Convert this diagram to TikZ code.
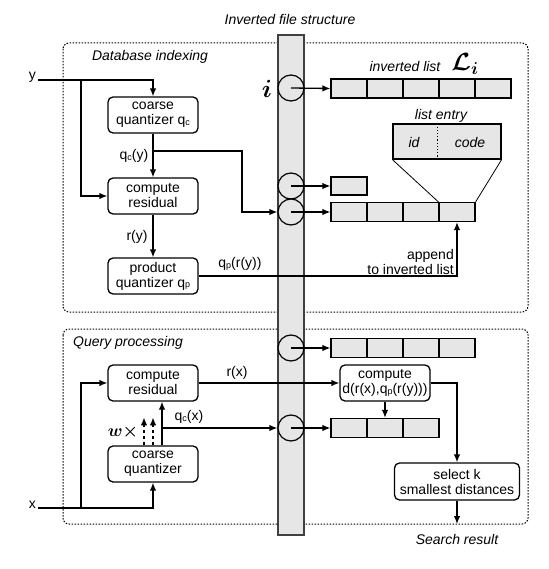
\documentclass[tikz,border=0pt]{standalone}
\usepackage{fontspec}
\setmainfont{Liberation Sans}
\usepackage{bm}
\usetikzlibrary{arrows.meta}
\newcommand{\sbs}[1]{\raisebox{-0.6pt}{\fontsize{9}{9}\selectfont #1}}
\definecolor{barfill}{HTML}{E6E6E6}
\definecolor{bardraw}{HTML}{404040}
\tikzset{
  procbox/.style={draw, rounded corners=5pt, line width=1.3pt, minimum width=90pt, minimum height=36pt, align=center, inner sep=1pt, fill=white},
  cell/.style={draw, fill=barfill, minimum width=36pt, minimum height=19pt, inner sep=0pt, line width=1.2pt},
  slot/.style={circle, draw, fill=barfill, minimum size=26pt, inner sep=0pt, line width=1.2pt},
  arr/.style={-{Latex[length=8pt,width=6.5pt]}, line width=1.3pt},
  plain/.style={line width=1.3pt},
  region/.style={draw, line width=1pt, dash pattern=on 1.5pt off 1.5pt, rounded corners=6pt},
  lbl/.style={inner sep=0pt},
  ilbl/.style={inner sep=0pt, font=\fontsize{14}{15}\selectfont\itshape},
}
\begin{document}
\begin{tikzpicture}[x=1pt,y=-1pt, font=\fontsize{14}{15}\selectfont]
\useasboundingbox (0,0) rectangle (548,569);
% regions
\draw[region] (63,43) rectangle (528,312);
\draw[region] (63,329) rectangle (528,524);
\node[ilbl] (dbl) at (150,57) {Database indexing};
\node[ilbl] (qpl) at (128,343) {Query processing};
% bar
\node[ilbl] (title) at (290,20) {Inverted file structure};
\draw[fill=barfill, draw=bardraw, line width=1.5pt] (278,35) rectangle (304,535);
% slots
\node[slot] (k1) at (291,88) {};
\node[slot] (k2) at (291,186) {};
\node[slot] (k3) at (291,212) {};
\node[slot] (k4) at (291,348) {};
\node[slot] (k5) at (291,428) {};
\node[lbl, font=\fontsize{24}{24}\selectfont] (ilab) at (267,89) {$\bm{i}$};
% lists
\foreach \k in {1,...,5} \node[cell] (a\k) at ({313+36*\k},88.5) {};
\node[cell, minimum height=18pt] (b1) at (349,186) {};
\foreach \k in {1,...,4} \node[cell] (c\k) at ({313+36*\k},212) {};
\foreach \k in {1,...,4} \node[cell] (d\k) at ({313+36*\k},348) {};
\foreach \k in {1,...,3} \node[cell] (e\k) at ({313+36*\k},428) {};
\node[ilbl] (ill) at (405,67) {inverted list};
\node[lbl, font=\fontsize{24}{24}\selectfont] (Li) at (465,64) {$\bm{\mathcal{L}}_{\bm{i}}$};
% list entry
\node[draw, fill=barfill, minimum width=108pt, minimum height=35pt, inner sep=0pt, line width=1.2pt] (entry) at (447,141.5) {};
\draw[line width=1.2pt, dotted] ([xshift=45pt]entry.north west) -- ([xshift=45pt]entry.south west);
\node[ilbl] (idl) at (414,143) {id};
\node[ilbl] (codel) at (470,143) {code};
\node[ilbl] (lel) at (441,116) {list entry};
\draw[line width=0.8pt] (entry.south west) -- (c4.north west);
\draw[line width=0.8pt] (entry.south east) -- (c4.north east);
% slot arrows
\draw[arr] (k1.center) -- (a1.west);
\draw[arr] (k2.center) -- (b1.west);
\draw[arr] (k3.center) -- (c1.west);
\draw[arr] (k4.center) -- (d1.west);
\draw[arr] (k5.center) -- (e1.west);
% database indexing
\node[procbox] (cq) at (153,115) {coarse\\quantizer q\sbs{c}};
\node[procbox] (res) at (153,196) {compute\\residual};
\node[procbox] (pq) at (153,276) {product\\quantizer q\sbs{p}};
\coordinate (yin) at (38,80);
\node[lbl, anchor=base east] (ylab) at (36,80) {y};
\coordinate (ysplit) at (81,80);
\draw[arr] (yin) -| (cq.north);
\draw[arr] (ysplit) |- (res.west);
\draw[arr] (cq.south) -- (res.north);
\coordinate (qcy) at (153,151);
\coordinate (bend1) at (242,151);
\draw[arr] (qcy) -- (bend1) |- (k3.west);
\node[lbl] (qcyl) at (134,156) {q\sbs{c}(y)};
\draw[arr] (res.south) -- (pq.north);
\node[lbl] (ryl) at (137,237) {r(y)};
\draw[arr] (pq.east) -| (c4.south);
\node[lbl] (qpl2) at (240,264) {q\sbs{p}(r(y))};
\node[lbl, align=right, anchor=south east] (appl) at (454,275) {append\\to inverted list};
% query processing
\node[procbox] (qres) at (153,383) {compute\\residual};
\node[procbox] (qcq) at (153,464) {coarse\\quantizer};
\coordinate (xin) at (38,508);
\node[lbl, anchor=base east] (xlab) at (36,508) {x};
\coordinate (xsplit) at (81,508);
\draw[arr] (xin) -| (qcq.south);
\draw[arr] (xsplit) |- (qres.west);
\draw[arr] ([xshift=9pt]qcq.north) -- ([xshift=9pt]qres.south);
\draw[arr, dashed] ([xshift=-9pt]qcq.north) -- ++(0,-28);
\draw[arr, dashed] ([xshift=0pt]qcq.north) -- ++(0,-28);
\node[lbl, font=\fontsize{17}{17}\selectfont] (wl) at (123,432) {$\bm{w}\bm{\times}$};
\coordinate (qcx) at (162,428);
\draw[arr] (qcx) -- (k5.west);
\node[lbl] (qcxl) at (189,417) {q\sbs{c}(x)};
\node[procbox] (cd) at (385,383) {compute\\d(r(x),q\sbs{p}(r(y)))};
\draw[arr] (qres.east) -- (cd.west);
\node[lbl] (rxl) at (237,373) {r(x)};
\draw[arr] (cd.south) -- (d2.north |- e2.north);
\node[procbox, minimum width=125pt, minimum height=37pt] (sel) at (457,481.5) {select k\\smallest distances};
\draw[arr] (cd.east) -| (sel.north);
\coordinate (sr) at (457,524);
\draw[arr] (sel.south) -- (sr);
\node[ilbl] (srl) at (457,539) {Search result};
\end{tikzpicture}
\end{document}
